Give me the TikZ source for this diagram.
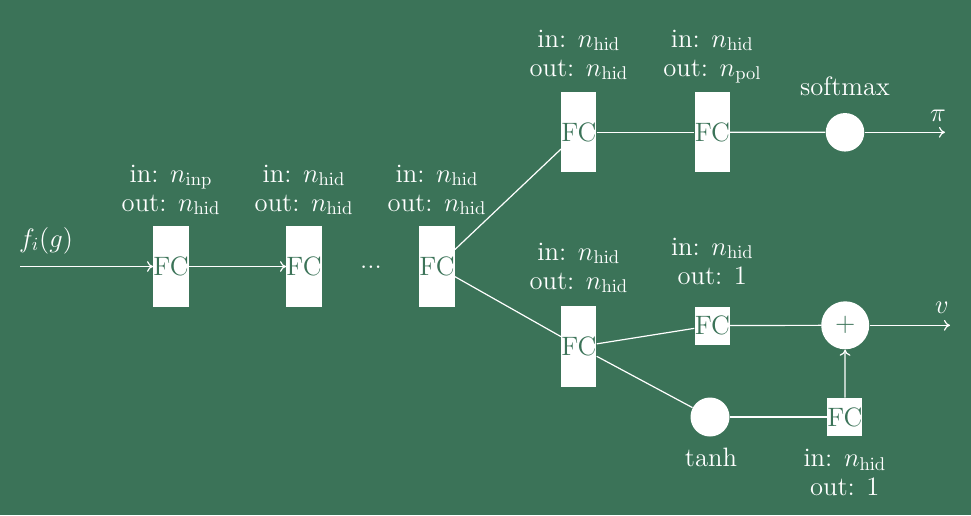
\documentclass[tikz,border=0pt]{standalone}
\usetikzlibrary{arrows.meta}
\definecolor{bggreen}{RGB}{59,115,88}
\newdimen\pxu
\pxu=0.5414pt
\begin{document}
\begin{tikzpicture}[x=\pxu,y=-\pxu,
  >={To[length=3.3pt,width=5.8pt]},
  every node/.style={font=\fontsize{14.4pt}{15.7pt}\selectfont},
  fcbox/.style={fill=white,draw=none,text=bggreen,inner sep=0pt,minimum width=35\pxu,minimum height=80.5\pxu},
  fcsmall/.style={fill=white,draw=none,text=bggreen,inner sep=0pt,minimum width=35\pxu,minimum height=38\pxu},
  dot/.style={circle,fill=white,draw=none,text=bggreen,inner sep=0pt,minimum size=#1},
  lab/.style={text=white,align=center,anchor=base,inner sep=0pt},
  wire/.style={draw=white,line width=1.2\pxu}]
\fill[bggreen] (0,0) rectangle (971,515);
\useasboundingbox (0,0) rectangle (971,515);

% nodes
\node[fcbox] (fc1) at (171,266.5) {FC};
\node[fcbox] (fc2) at (304,266.5) {FC};
\node[lab] (dots) at (371,268) {...};
\node[fcbox] (fc3) at (437,266.5) {FC};
\node[fcbox] (ph) at (578.8,132.2) {FC};
\node[fcbox] (pol) at (712.3,132.2) {FC};
\node[dot=38.5\pxu] (sm) at (845,132.3) {};
\node[fcbox] (vh) at (578.8,346.7) {FC};
\node[fcsmall] (vo) at (712.3,325.5) {FC};
\node[dot=48\pxu] (plus) at (845.2,325.3) {+};
\node[dot=39\pxu] (th) at (710,417) {};
\node[fcsmall] (fcb) at (844.8,417) {FC};

\coordinate (in) at (20,266.5);
\coordinate (piend) at (945,132.3);
\coordinate (vend) at (950,325.3);

% labels (anchor = baseline of last line)
\node[lab] (lin) at (46,247) {$f_i(g)$};
\node[lab] (l1) at (171,211) {in: $n_{\mathrm{inp}}$\\out: $n_{\mathrm{hid}}$};
\node[lab] (l2) at (304,211) {in: $n_{\mathrm{hid}}$\\out: $n_{\mathrm{hid}}$};
\node[lab] (l3) at (437,211) {in: $n_{\mathrm{hid}}$\\out: $n_{\mathrm{hid}}$};
\node[lab] (lph) at (578.8,76) {in: $n_{\mathrm{hid}}$\\out: $n_{\mathrm{hid}}$};
\node[lab] (lpol) at (712.3,76) {in: $n_{\mathrm{hid}}$\\out: $n_{\mathrm{pol}}$};
\node[lab] (lsm) at (845,95) {softmax};
\node[lab] (lpi) at (938,121) {$\pi$};
\node[lab] (lvh) at (578.8,289) {in: $n_{\mathrm{hid}}$\\out: $n_{\mathrm{hid}}$};
\node[lab] (lvo) at (712.3,284) {in: $n_{\mathrm{hid}}$\\out: 1};
\node[lab] (lv) at (942,313) {$v$};
\node[lab] (lth) at (711,466.7) {tanh};
\node[lab] (lfcb) at (844.8,495) {in: $n_{\mathrm{hid}}$\\out: 1};

% connectors
\draw[wire,->] (in) -- (fc1);
\draw[wire,->] (fc1) -- (fc2);
\draw[wire] (fc3) -- (ph);
\draw[wire] (fc3) -- (vh);
\draw[wire] (ph) -- (pol);
\draw[wire] (pol) -- (sm);
\draw[wire,->] (sm) -- (piend);
\draw[wire] (vh) -- (vo);
\draw[wire] (vh) -- (th);
\draw[wire] (th) -- (fcb);
\draw[wire,->] (fcb) -- (plus);
\draw[wire] (vo) -- (plus);
\draw[wire,->] (plus) -- (vend);
\end{tikzpicture}
\end{document}
